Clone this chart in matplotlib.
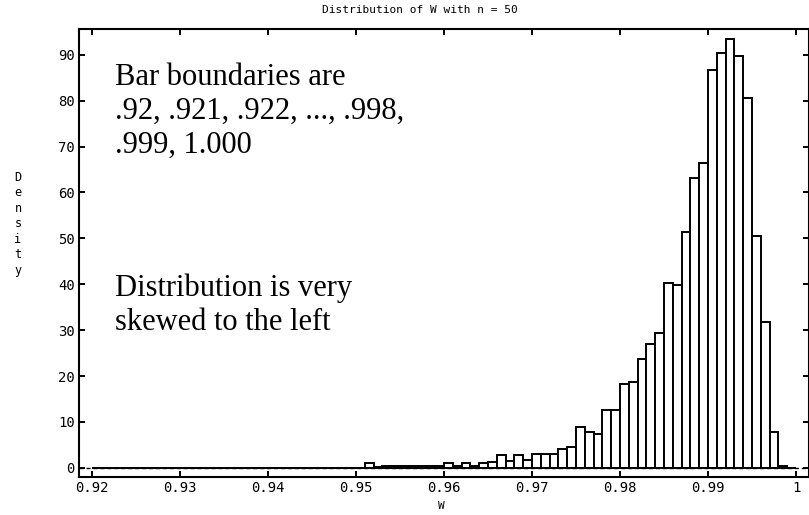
import numpy as np
import matplotlib
matplotlib.use("Agg")
import matplotlib.pyplot as plt

# Data
bin_left = np.round(np.arange(920, 1000) / 1000.0, 3)   # bar boundaries .920 ... .999
tail_start = 0.951
tail_density = [
    1.0, 0.2, 0.4, 0.4, 0.4, 0.4, 0.3, 0.5, 0.5,          # .951-.959
    1.0, 0.5, 1.0, 0.5, 1.0, 1.3, 2.9, 1.5, 2.7, 1.7,     # .960-.969
    3.1, 3.1, 3.1, 4.0, 4.6, 8.9, 7.8, 7.3, 12.7, 12.7,   # .970-.979
    18.3, 18.7, 23.6, 26.9, 29.3, 40.2, 39.8, 51.3, 63.1, 66.4,  # .980-.989
    86.7, 90.4, 93.5, 89.8, 80.5, 50.4, 31.7, 7.7, 0.4, 0.0,     # .990-.999
]
n_zero = int(round((tail_start - 0.920) * 1000))
density = [0.0] * n_zero + tail_density
bin_width = 0.001

x_ticks = [0.92, 0.93, 0.94, 0.95, 0.96, 0.97, 0.98, 0.99, 1.00]
x_tick_labels = ["0.92", "0.93", "0.94", "0.95", "0.96", "0.97", "0.98", "0.99", "1"]
y_ticks = [0, 10, 20, 30, 40, 50, 60, 70, 80, 90]

title = "Distribution of W with n = 50"
xlabel = "W"
ylabel = "Density"
note1 = ["Bar boundaries are", ".92, .921, .922, ..., .998,", ".999, 1.000"]
note2 = ["Distribution is very", "skewed to the left"]

W, H = 809, 515
fig = plt.figure(figsize=(W / 100, H / 100), dpi=100)
ax = fig.add_axes([79 / W, (H - 477) / H, (809 - 79) / W, (477 - 29) / H])

mono = "DejaVu Sans Mono"
serif = "Liberation Serif"

ax.axhline(0, color="black", lw=1.0, ls=(0, (3, 2)), zorder=1)
ax.bar(bin_left, density, width=bin_width, align="edge", color="white",
       edgecolor="black", linewidth=1.4, zorder=2)

ax.set_xlim(0.92 - 13 / 8800, 1.0 + 13 / 8800)
ax.set_ylim(-2.0, 95.6)
ax.set_xticks(x_ticks)
ax.set_xticklabels(x_tick_labels, fontfamily=mono, fontsize=10)
ax.set_yticks(y_ticks)
ax.set_yticklabels([str(v) for v in y_ticks], fontfamily=mono, fontsize=10)
ax.tick_params(direction="in", length=4, width=1.4, top=True, right=True, pad=3)
for s in ax.spines.values():
    s.set_linewidth(1.5)

def px(x, y):
    return x / W, 1 - y / H

fig.text(*px(420, 10), title, fontfamily=mono, fontsize=8, ha="center", va="center")
fig.text(*px(441, 506), xlabel, fontfamily=mono, fontsize=8, ha="center", va="center")
fig.text(*px(18, 224), "\n".join(ylabel), fontfamily=mono, fontsize=8.5,
         ha="center", va="center", linespacing=1.25)

for i, line in enumerate(note1):
    fig.text(*px(115, 85 + 34 * i), line, fontfamily=serif, fontsize=22, va="baseline", ha="left")
for i, line in enumerate(note2):
    fig.text(*px(115, 296 + 34 * i), line, fontfamily=serif, fontsize=22, va="baseline", ha="left")

fig.savefig("out.png", dpi=100)
